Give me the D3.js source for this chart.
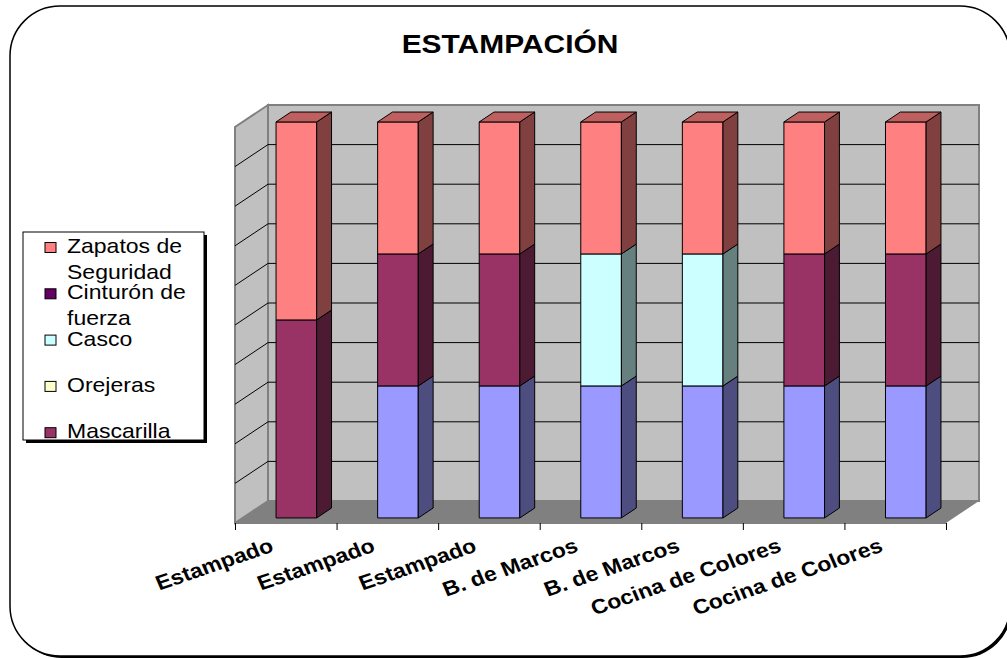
<html>
<head>
<meta charset="utf-8">
<title>ESTAMPACIÓN</title>
<script src="https://cdnjs.cloudflare.com/ajax/libs/d3/7.8.5/d3.min.js"></script>
<style>
  body { margin: 0; background: #fff; }
  svg { display: block; font-family: "Liberation Sans", Arial, sans-serif; }
</style>
</head>
<body>
<svg width="1007" height="659"></svg>
<script>
// data (100% stacked, bottom series first)
const categories = ['Estampado', 'Estampado', 'Estampado', 'B. de Marcos', 'B. de Marcos', 'Cocina de Colores', 'Cocina de Colores'];
const seriesNames = ['Serie1', 'Mascarilla', 'Orejeras', 'Casco', 'Cinturón de fuerza', 'Zapatos de Seguridad'];
const serie1     = [0, 1, 1, 1, 1, 1, 1];
const mascarilla = [1, 1, 1, 0, 0, 1, 1];
const orejeras   = [0, 0, 0, 0, 0, 0, 0];
const casco      = [0, 0, 0, 1, 1, 0, 0];
const cinturon   = [0, 0, 0, 0, 0, 0, 0];
const zapatos    = [1, 1, 1, 1, 1, 1, 1];
const seriesColors = ['#9999FF', '#993366', '#FFFFCC', '#CCFFFF', '#660066', '#FF8080'];
const legendNames = [['Zapatos de', 'Seguridad'], ['Cinturón de', 'fuerza'], ['Casco'], ['Orejeras'], ['Mascarilla']];
const legendColors = ['#FF8080', '#660066', '#CCFFFF', '#FFFFCC', '#993366'];
const yTicks = d3.range(0, 1.0001, 0.1);

const columns = [serie1, mascarilla, orejeras, casco, cinturon, zapatos];
const table = categories.map((c, i) => {
  const row = { i: i };
  seriesNames.forEach((s, k) => row[s] = columns[k][i]);
  return row;
});
const stacked = d3.stack().keys(seriesNames).offset(d3.stackOffsetExpand)(table);

const svg = d3.select('svg');

// frame
svg.append('rect').attr('x', 12).attr('y', 8).attr('width', 1000).attr('height', 650)
  .attr('rx', 50).attr('fill', '#000');
svg.append('rect').attr('x', 10).attr('y', 6).attr('width', 1000).attr('height', 650)
  .attr('rx', 50).attr('fill', '#fff').attr('stroke', '#000').attr('stroke-width', 1.5);

svg.append('text').attr('transform', 'translate(510,53) scale(1.13,1)')
  .attr('text-anchor', 'middle').attr('font-size', 26.5).attr('font-weight', 'bold')
  .text('ESTAMPACIÓN');

// 3d plot area
const left = 235, right = 946, floorY = 523, topY = 127;
const DX = 33, DY = 22;
const zFront = 0.23, zBack = 0.68;
const P = (x, y, z) => [x + z * DX, y - z * DY];

const x = d3.scaleBand().domain(d3.range(categories.length)).range([left + 3, right + 3])
  .paddingInner(0.6).paddingOuter(0.3);
const y = d3.scaleLinear().domain([0, 1]).range([floorY, topY]);
const tickX = d3.scaleLinear().domain([0, categories.length]).range([left, right]);

const poly = pts => 'M' + pts.map(p => p.join(',')).join('L') + 'Z';

// walls
svg.append('path').attr('d', poly([P(left, y(0), 0), P(left, y(0), 1), P(right, y(0), 1), P(right, y(0), 0)]))
  .attr('fill', '#808080');
svg.append('path').attr('d', poly([P(left, y(0), 0), P(left, y(0), 1), P(left, y(1), 1), P(left, y(1), 0)]))
  .attr('fill', '#C0C0C0').attr('stroke', '#808080').attr('stroke-width', 2);
svg.append('path').attr('d', poly([P(left, y(0), 1), P(right, y(0), 1), P(right, y(1), 1), P(left, y(1), 1)]))
  .attr('fill', '#C0C0C0').attr('stroke', '#808080').attr('stroke-width', 2);

const grid = svg.append('g').attr('stroke', '#000').attr('stroke-width', 1);
yTicks.slice(1, -1).forEach(t => {
  const a = P(left, y(t), 0), b = P(left, y(t), 1), c = P(right, y(t), 1);
  grid.append('path').attr('d', 'M' + a + 'L' + b + 'L' + c).attr('fill', 'none');
});

// x axis (floor front edge)
svg.append('g').attr('transform', `translate(0,${floorY})`)
  .call(d3.axisBottom(tickX).tickValues(d3.range(categories.length + 1)).tickFormat('').tickSize(7).tickSizeOuter(0))
  .call(g => g.select('.domain').attr('stroke', '#808080'))
  .call(g => g.selectAll('.tick line').attr('stroke', '#000'));

// bars
const shade = (c, k) => { const r = d3.rgb(c); return d3.rgb(r.r * k, r.g * k, r.b * k).formatHex(); };
categories.forEach((cat, i) => {
  const g = svg.append('g').attr('stroke', '#000').attr('stroke-width', 1).attr('stroke-linejoin', 'round');
  const x0 = x(i), x1 = x(i) + x.bandwidth();
  let topSeg = null;
  stacked.forEach((s, k) => {
    const d = s[i];
    if (d[1] - d[0] <= 0) return;
    const y0 = y(d[0]), y1 = y(d[1]);
    const col = seriesColors[k];
    const f0 = P(x0, y1, zFront), f1 = P(x1, y0, zFront);
    g.append('rect').attr('x', f0[0]).attr('y', f0[1]).attr('width', f1[0] - f0[0]).attr('height', f1[1] - f0[1])
      .attr('fill', col);
    g.append('path').attr('d', poly([P(x1, y1, zFront), P(x1, y1, zBack), P(x1, y0, zBack), P(x1, y0, zFront)]))
      .attr('fill', shade(col, 0.5));
    topSeg = { y1: y1, col: col };
  });
  if (topSeg) {
    g.append('path').attr('d', poly([P(x0, topSeg.y1, zFront), P(x0, topSeg.y1, zBack), P(x1, topSeg.y1, zBack), P(x1, topSeg.y1, zFront)]))
      .attr('fill', shade(topSeg.col, 0.75));
  }
});

// category labels
svg.append('g').selectAll('text').data(categories).join('text')
  .attr('transform', (d, i) => `translate(${x(i) + x.bandwidth() / 2 - 14},551) scale(1.12,1) rotate(-21)`)
  .attr('text-anchor', 'end').attr('font-size', 20.5).attr('font-weight', 'bold')
  .text(d => d);

// legend
const lg = svg.append('g');
lg.append('rect').attr('x', 26).attr('y', 235).attr('width', 181).attr('height', 208).attr('fill', '#000');
lg.append('rect').attr('x', 23).attr('y', 232).attr('width', 181).attr('height', 208)
  .attr('fill', '#fff').attr('stroke', '#000').attr('stroke-width', 1);
legendNames.forEach((lines, k) => {
  const by = 253 + k * 46.3;
  lg.append('rect').attr('x', 45).attr('y', by - 10.5).attr('width', 11).attr('height', 10)
    .attr('fill', legendColors[k]).attr('stroke', '#000').attr('stroke-width', 1);
  lines.forEach((t, j) => {
    lg.append('text').attr('transform', `translate(67,${by + j * 26}) scale(1.15,1)`)
      .attr('font-size', 20).text(t);
  });
});
</script>
</body>
</html>
